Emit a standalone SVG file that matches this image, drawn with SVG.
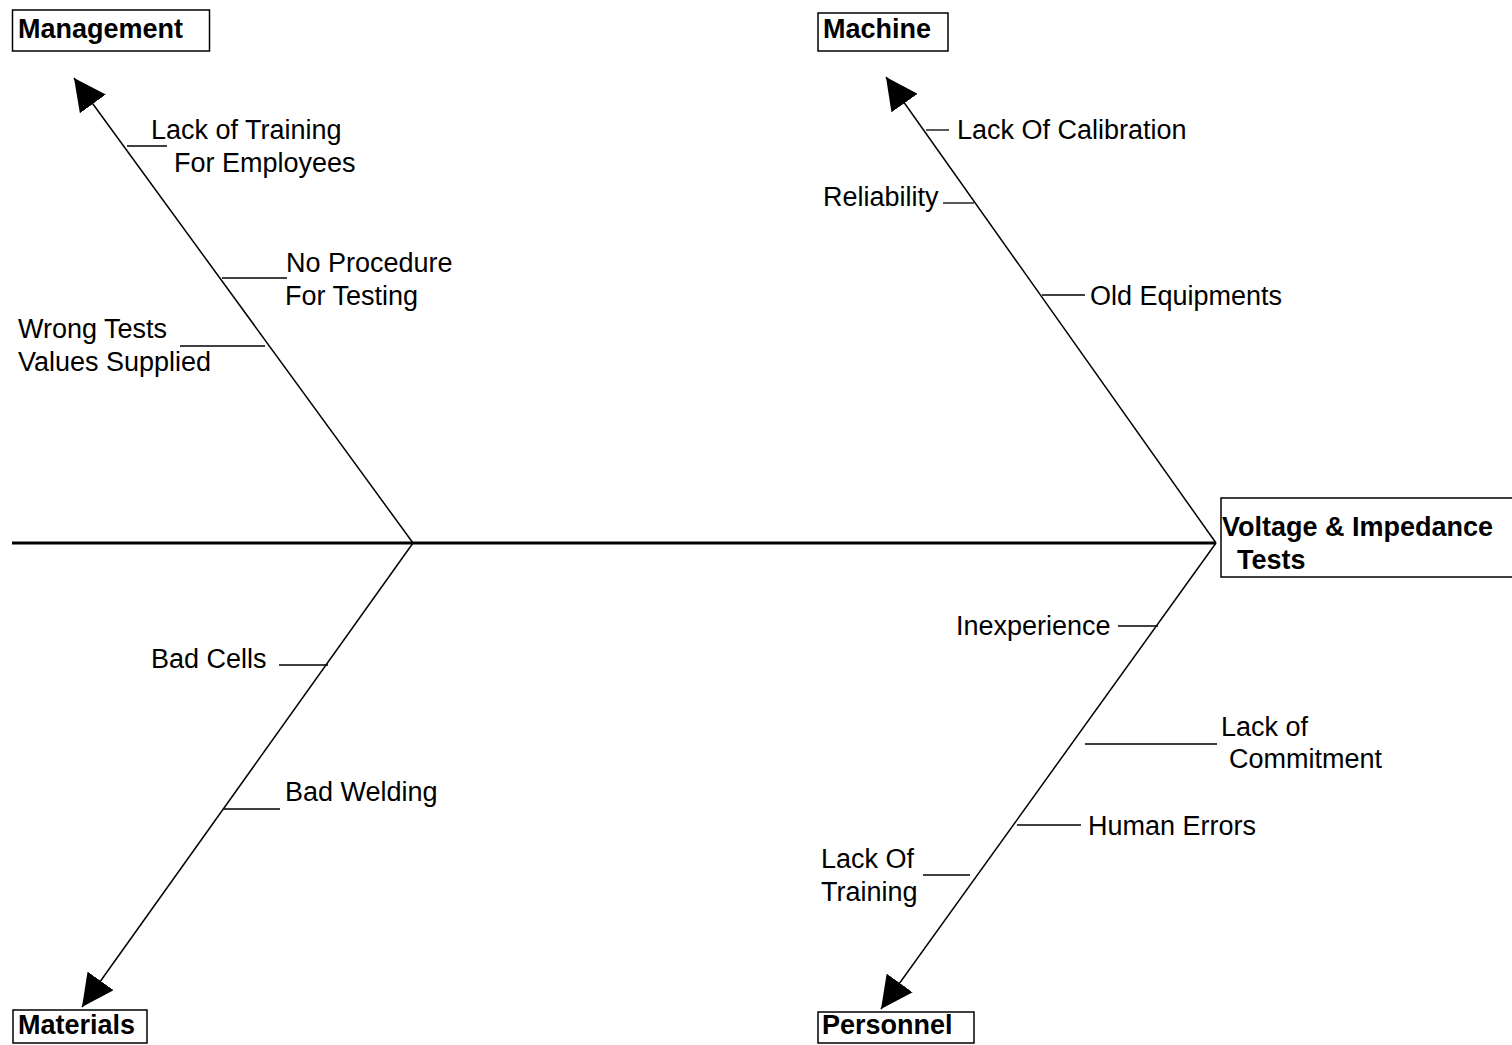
<svg xmlns="http://www.w3.org/2000/svg" width="1512" height="1045" viewBox="0 0 1512 1045">
<style>
text{font-family:"Liberation Sans",Arial,sans-serif;font-size:27px;fill:#000}
.b{font-weight:bold}
.box{fill:#fff;stroke:#000;stroke-width:1.5}
.br{stroke:#000;stroke-width:1.5;fill:none}
.tk{stroke:#000;stroke-width:1.3;fill:none}
</style>
<defs>
<marker id="ah" markerUnits="userSpaceOnUse" viewBox="0 0 32 32" markerWidth="32" markerHeight="32" refX="32" refY="16" orient="auto">
<path d="M0,0 L32,16 L0,32 z" fill="#000"/>
</marker>
</defs>
<rect width="1512" height="1045" fill="#fff"/>
<g id="connectors">
<line x1="12" y1="543" x2="1216" y2="543" stroke="#000" stroke-width="3"/>
<line class="br" x1="413" y1="543" x2="74" y2="78" marker-end="url(#ah)"/>
<line class="br" x1="413" y1="543" x2="82" y2="1007" marker-end="url(#ah)"/>
<line class="br" x1="1216" y1="543" x2="886" y2="77" marker-end="url(#ah)"/>
<line class="br" x1="1216" y1="543" x2="881" y2="1009" marker-end="url(#ah)"/>
<line class="tk" x1="127" y1="146" x2="167" y2="146"/>
<line class="tk" x1="222" y1="278" x2="287" y2="278"/>
<line class="tk" x1="180" y1="346" x2="265" y2="346"/>
<line class="tk" x1="926" y1="130" x2="949" y2="130"/>
<line class="tk" x1="943" y1="203" x2="974" y2="203"/>
<line class="tk" x1="1042" y1="295" x2="1085" y2="295"/>
<line class="tk" x1="279" y1="665" x2="328" y2="665"/>
<line class="tk" x1="224" y1="809" x2="280" y2="809"/>
<line class="tk" x1="1118" y1="626" x2="1158" y2="626"/>
<line class="tk" x1="1085" y1="744" x2="1217" y2="744"/>
<line class="tk" x1="1017" y1="825" x2="1081" y2="825"/>
<line class="tk" x1="923" y1="875" x2="970" y2="875"/>
</g>
<g id="management"><rect class="box" x="12.5" y="10" width="197" height="41"/><text class="b" x="18" y="38">Management</text></g>
<g id="machine"><rect class="box" x="818" y="13" width="130" height="38"/><text class="b" x="823" y="38">Machine</text></g>
<g id="effect"><rect class="box" x="1221" y="498" width="300" height="79"/><text class="b" x="1222" y="536">Voltage &amp; Impedance</text><text class="b" x="1237" y="569">Tests</text></g>
<g id="materials"><rect class="box" x="13" y="1010" width="134" height="33"/><text class="b" x="18" y="1034">Materials</text></g>
<g id="personnel"><rect class="box" x="818" y="1012" width="156" height="31"/><text class="b" x="822" y="1034">Personnel</text></g>
<g id="cause-lack-training-employees"><text x="151" y="139">Lack of Training</text><text x="174" y="172">For Employees</text></g>
<g id="cause-no-procedure"><text x="286" y="272">No Procedure</text><text x="285" y="305">For Testing</text></g>
<g id="cause-wrong-tests"><text x="18" y="338">Wrong Tests</text><text x="18" y="371">Values Supplied</text></g>
<g id="cause-calibration"><text x="957" y="139">Lack Of Calibration</text></g>
<g id="cause-reliability"><text x="823" y="206">Reliability</text></g>
<g id="cause-old-equipments"><text x="1090" y="305">Old Equipments</text></g>
<g id="cause-bad-cells"><text x="151" y="668">Bad Cells</text></g>
<g id="cause-bad-welding"><text x="285" y="801">Bad Welding</text></g>
<g id="cause-inexperience"><text x="956" y="635">Inexperience</text></g>
<g id="cause-commitment"><text x="1221" y="736">Lack of</text><text x="1229" y="768">Commitment</text></g>
<g id="cause-human-errors"><text x="1088" y="835">Human Errors</text></g>
<g id="cause-lack-of-training"><text x="821" y="868">Lack Of</text><text x="821" y="901">Training</text></g>
</svg>
